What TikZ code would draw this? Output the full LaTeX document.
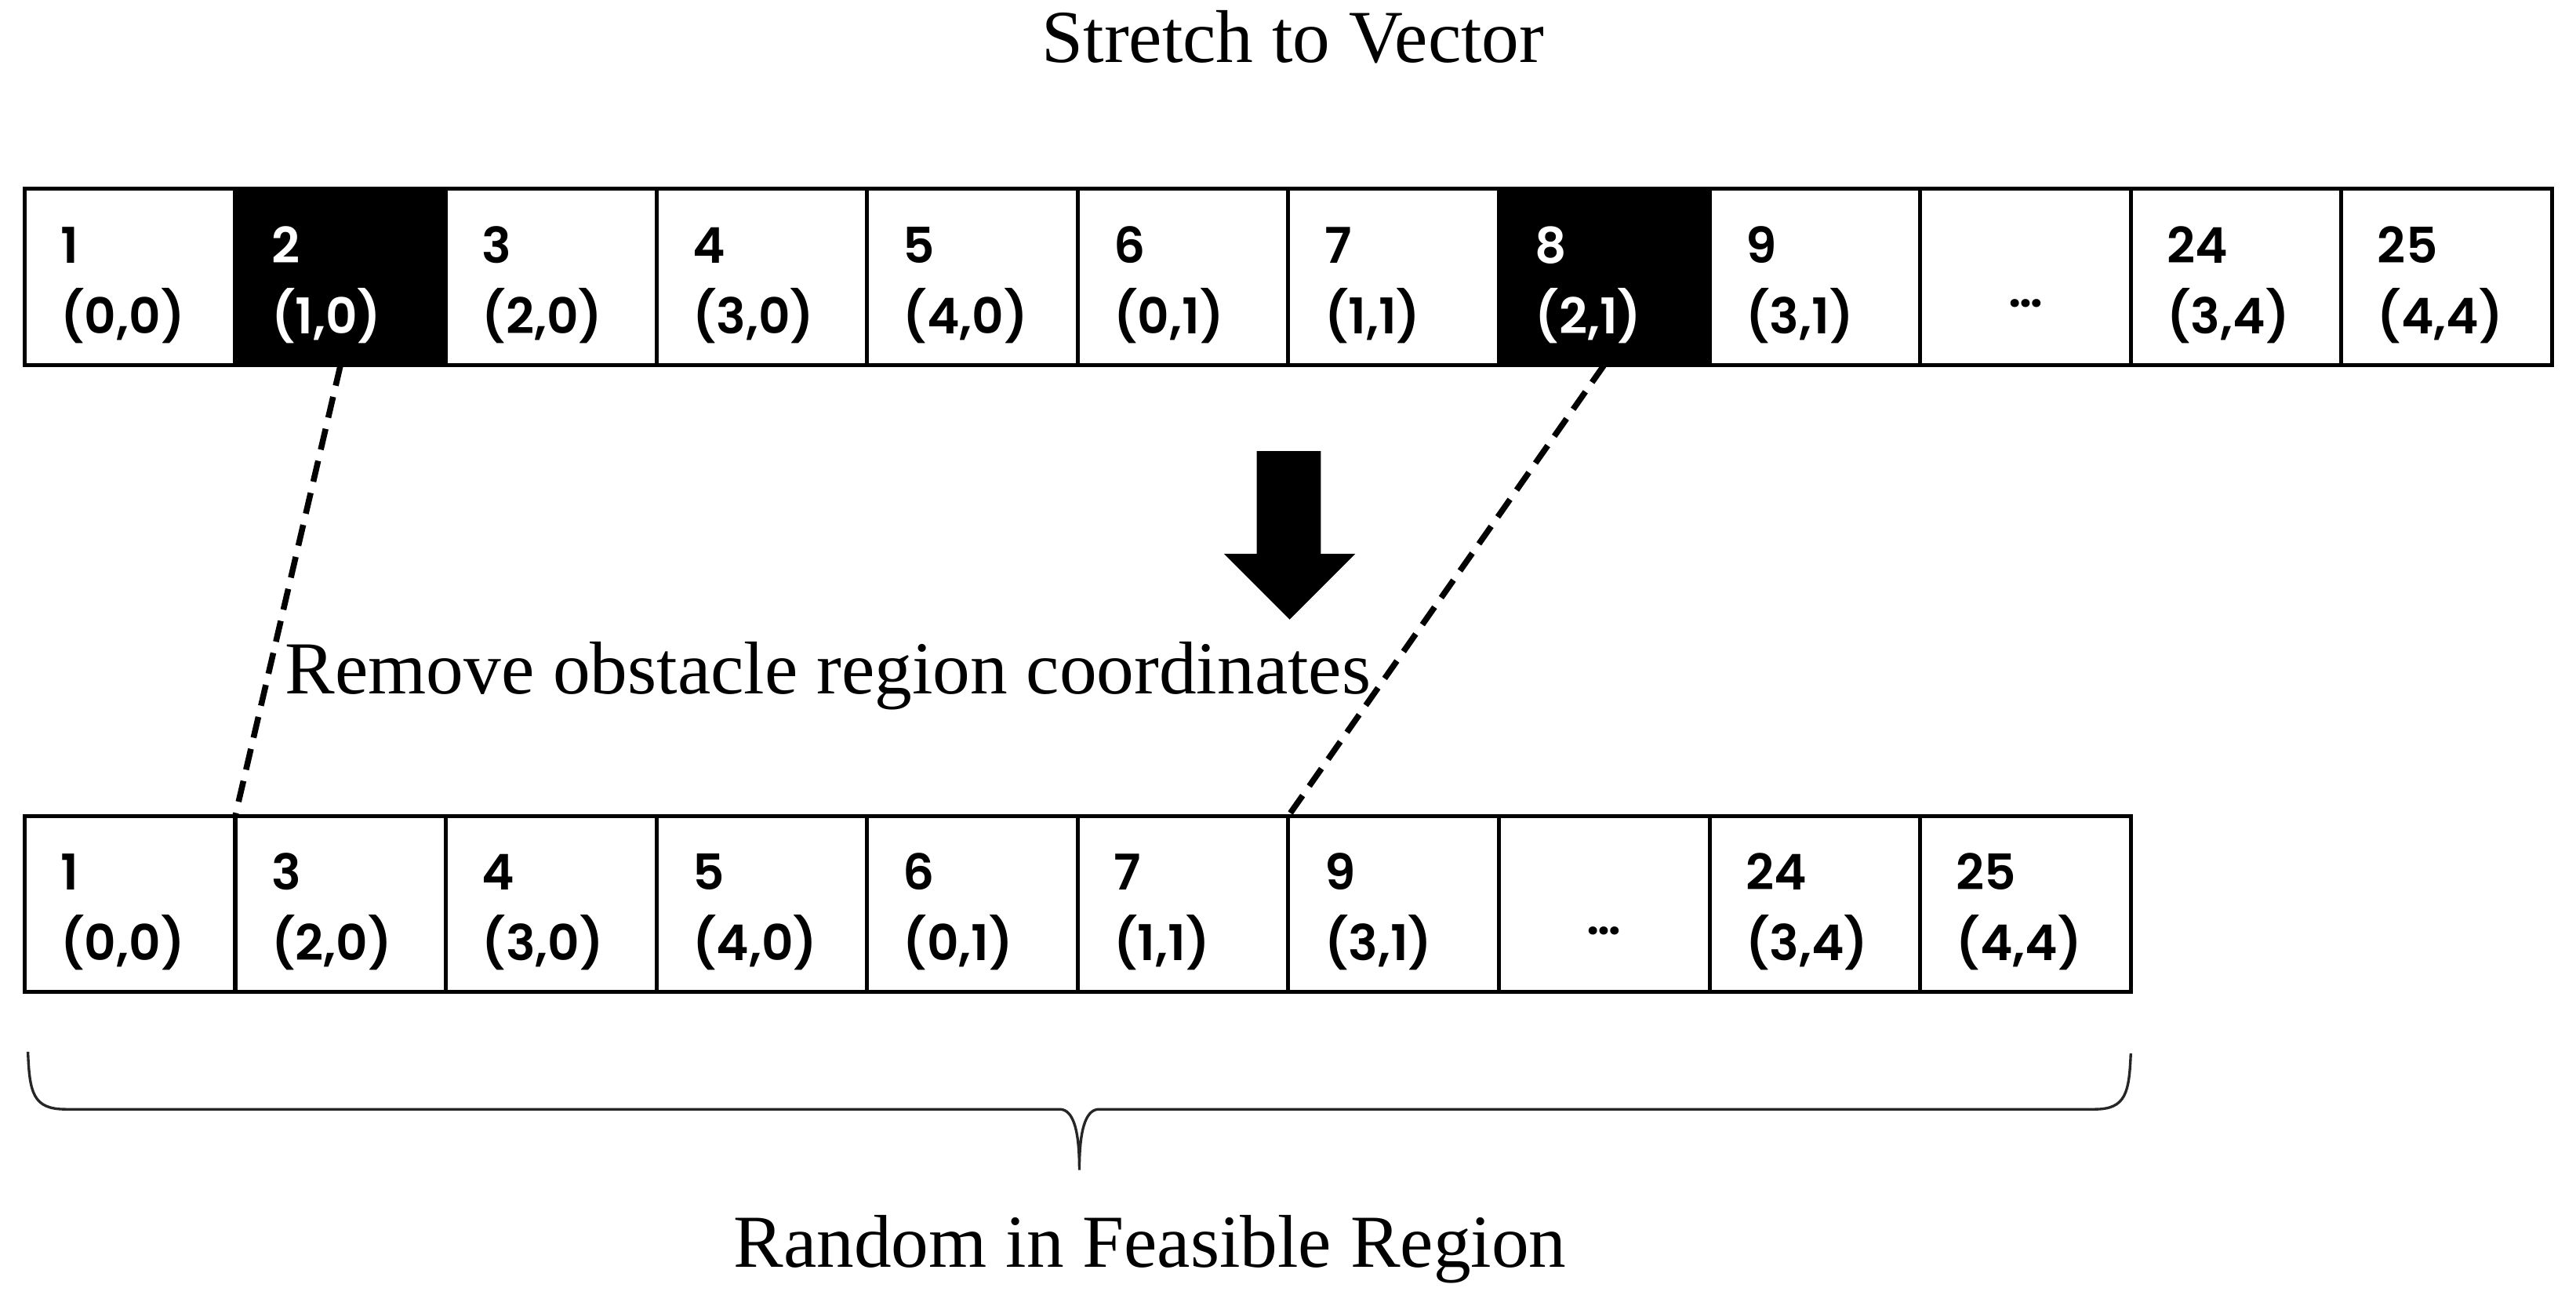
\documentclass[tikz,border=0pt]{standalone}
\usepackage{fontspec}
\setmainfont{Liberation Serif}
\newfontfamily\cellfont{Poppins}[BoldFont={Poppins SemiBold}]
\usetikzlibrary{positioning}

\begin{document}
\begin{tikzpicture}[x=0.5pt, y=-0.5pt, node distance=64.1pt, on grid,
	cell/.style={draw, line width=1.2pt, rectangle, minimum width=64.1pt, minimum height=53.5pt,
		inner xsep=11pt, inner ysep=0pt, outer sep=0pt, text width=42.1pt, align=left,
		text height=10pt, text depth=18.5pt, font=\cellfont\bfseries\fontsize{15}{21.5}\selectfont},
	obst/.style={fill=black, text=white},
	gap/.style={align=center, text height=18.5pt, text depth=0pt},
	caption/.style={anchor=base, font=\fontsize{22.75}{27}\selectfont},
	link/.style={line width=1.8pt, dash pattern=on 6.5pt off 3.5pt}]
	\useasboundingbox (0,0) rectangle (1568,794.7);

	% full vector
	\node[cell] (t1) at (79.1,168.5) {1\\(0,0)};
	\node[cell, obst] (t2) [right=of t1] {2\\(1,0)};
	\node[cell] (t3) [right=of t2] {3\\(2,0)};
	\node[cell] (t4) [right=of t3] {4\\(3,0)};
	\node[cell] (t5) [right=of t4] {5\\(4,0)};
	\node[cell] (t6) [right=of t5] {6\\(0,1)};
	\node[cell] (t7) [right=of t6] {7\\(1,1)};
	\node[cell, obst] (t8) [right=of t7] {8\\(2,1)};
	\node[cell] (t9) [right=of t8] {9\\(3,1)};
	\node[cell, gap] (t10) [right=of t9] {\ldots};
	\node[cell] (t11) [right=of t10] {24\\(3,4)};
	\node[cell] (t12) [right=of t11] {25\\(4,4)};

	% feasible vector
	\node[cell] (b1) at (79.1,550) {1\\(0,0)};
	\node[cell] (b2) [right=of b1] {3\\(2,0)};
	\node[cell] (b3) [right=of b2] {4\\(3,0)};
	\node[cell] (b4) [right=of b3] {5\\(4,0)};
	\node[cell] (b5) [right=of b4] {6\\(0,1)};
	\node[cell] (b6) [right=of b5] {7\\(1,1)};
	\node[cell] (b7) [right=of b6] {9\\(3,1)};
	\node[cell, gap] (b8) [right=of b7] {\ldots};
	\node[cell] (b9) [right=of b8] {24\\(3,4)};
	\node[cell] (b10) [right=of b9] {25\\(4,4)};

	\draw[link] (t2.south) -- (b2.north west);
	\draw[link] (t8.south) -- (b7.north west);

	% block arrow
	\fill (765,274.5) -- (804,274.5) -- (804,337) -- (825,337) -- (785,377)
		-- (745,337) -- (765,337) -- cycle;

	\node[caption] (title) at (787,38) {Stretch to Vector};
	\node[caption] (remove) at (504,422) {Remove obstacle region coordinates};
	\node[caption] (result) at (700,771) {Random in Feasible Region};

	% brace under the feasible vector
	\draw[line width=0.8pt, black!85] (17,640) .. controls (18,665) and (20,675) .. (40,675)
		-- (645,675) .. controls (654,675) and (657,690) .. (657,712)
		.. controls (657,690) and (660,675) .. (669,675)
		-- (1275,675) .. controls (1294,675) and (1296,665) .. (1297,641);
\end{tikzpicture}
\end{document}
